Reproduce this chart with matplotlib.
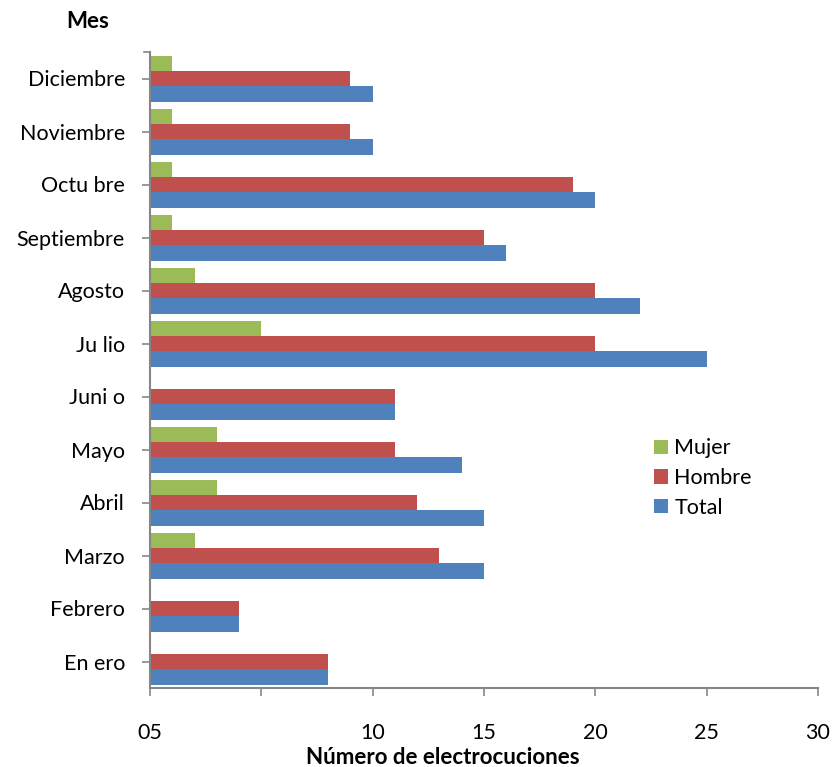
import matplotlib
matplotlib.use("Agg")
import matplotlib.pyplot as plt
import numpy as np

months = ["En ero", "Febrero", "Marzo", "Abril", "Mayo", "Juni o", "Ju lio",
          "Agosto", "Septiembre", "Octu bre", "Noviembre", "Diciembre"]
mujer = [0, 0, 2, 3, 3, 0, 5, 2, 1, 1, 1, 1]
hombre = [8, 4, 13, 12, 11, 11, 20, 20, 15, 19, 9, 9]
total = [8, 4, 15, 15, 14, 11, 25, 22, 16, 20, 10, 10]
xticks = [0, 5, 10, 15, 20, 25, 30]
xticklabels = ["05", "", "10", "15", "20", "25", "30"]

plt.rcParams['font.family'] = ['Lato', 'DejaVu Sans']
FS = 15.5

fig = plt.figure(figsize=(8.35, 7.67), dpi=100)
ax = fig.add_axes([150/835, 1-688/767, 668/835, 636/767])

y = np.arange(len(months))
h = 0.31
ax.barh(y + 0.27, mujer, height=h, color="#9BBB59", label="Mujer")
ax.barh(y - 0.01, hombre, height=h, color="#C0504D", label="Hombre")
ax.barh(y - 0.29, total, height=h, color="#4F81BD", label="Total")

ax.set_ylim(-0.5, len(months) - 0.5)
ax.set_xlim(0, 30)
ax.set_yticks(y)
ax.set_yticklabels(months, fontsize=FS)
ax.set_xticks(xticks)
ax.set_xticklabels(xticklabels, fontsize=FS)
for s in ["top", "right"]:
    ax.spines[s].set_visible(False)
for s in ["left", "bottom"]:
    ax.spines[s].set_color("#868686")
    ax.spines[s].set_linewidth(1.5)
ax.tick_params(axis="y", length=6, width=1.2, color="#868686", pad=12)
ax.tick_params(axis="x", length=6, width=1.2, color="#868686", pad=19)
# top edge tick mark
ax.plot([-0.27, 0], [len(months) - 0.5, len(months) - 0.5], color="#868686",
        lw=1.2, clip_on=False)

fig.text(443/835, 1-757/767, "Número de electrocuciones", fontsize=16,
         fontweight="bold", ha="center", va="center")
fig.text(88/835, 1-22/767, "Mes", fontsize=16, fontweight="bold",
         ha="center", va="center")

handles, labels = ax.get_legend_handles_labels()
ax.legend(handles, labels, loc="center left", bbox_to_anchor=(643/835, 1-478/767),
          bbox_transform=fig.transFigure, frameon=False, fontsize=FS,
          handlelength=0.65, handleheight=0.65, handletextpad=0.3,
          labelspacing=0.45, borderpad=0)

fig.savefig("out.png", dpi=100)
